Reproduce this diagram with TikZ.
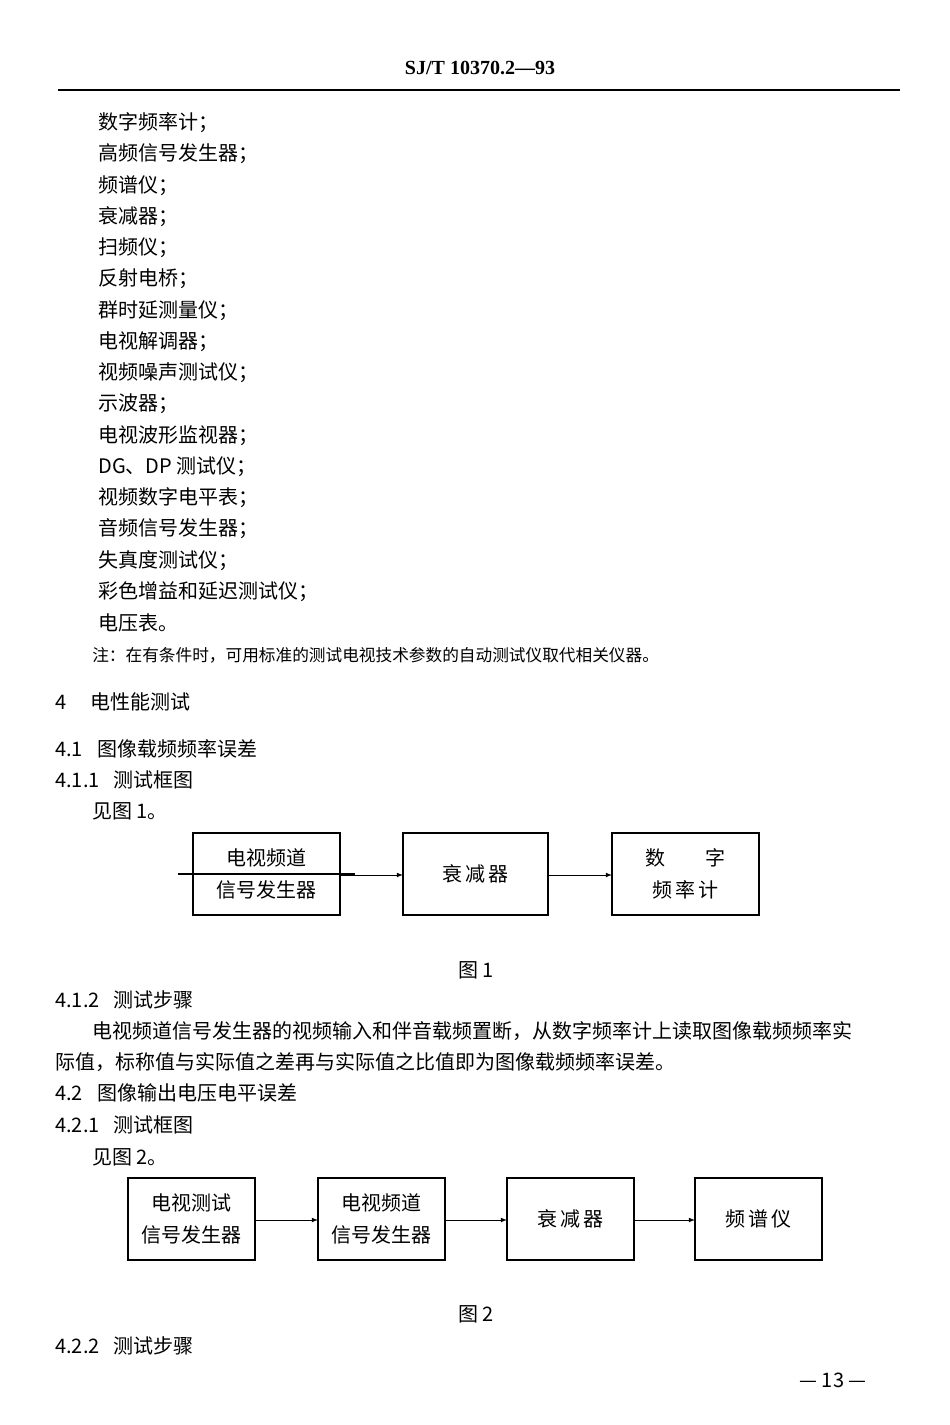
\documentclass[tikz,border=0pt]{standalone}
\usepackage{fontspec}
\setmainfont{Noto Sans CJK SC}
\newfontfamily\latinf{Liberation Serif}
\begin{document}
\begin{tikzpicture}[x=0.75pt,y=-0.75pt,
  txt/.style={anchor=west,inner sep=0pt,font=\fontsize{15}{18}\selectfont},
  small/.style={anchor=west,inner sep=0pt,font=\fontsize{12.5}{15}\selectfont},
  box/.style={draw,line width=0.9pt,inner sep=0pt,font=\fontsize{15}{24}\selectfont,align=center},
  conn/.style={-latex,line width=0.6pt}]
\useasboundingbox[fill=white] (0,0) rectangle (950,1425);
\node[font=\latinf\fontsize{15}{18}\selectfont\bfseries] (hdr) at (480,68) {SJ/T 10370.2—93};
\draw[line width=1pt] (58,90) -- (900,90);
\foreach \t/\y [count=\i] in {数字频率计；/123,高频信号发生器；/154,频谱仪；/186,衰减器；/217,扫频仪；/248,反射电桥；/279,群时延测量仪；/311,电视解调器；/342,视频噪声测试仪；/373,示波器；/404,电视波形监视器；/436,DG、DP 测试仪；/467,视频数字电平表；/498,音频信号发生器；/529,失真度测试仪；/561,彩色增益和延迟测试仪；/592,电压表。/623}
  \node[txt] (l\i) at (98,\y) {\t};
\node[small] (note) at (92,655) {注：在有条件时，可用标准的测试电视技术参数的自动测试仪取代相关仪器。};
\node[txt] (s4) at (55,702) {4\hspace{1.2em}电性能测试};
\node[txt] (s41) at (55,749) {4.1\hspace{0.7em}图像载频频率误差};
\node[txt] (s411) at (55,780) {4.1.1\hspace{0.7em}测试框图};
\node[txt] (see1) at (92,811) {见图 1。};
\node[box,minimum width=147\pgflinewidth,text width=130pt] (a1) at (266.5,874) {};
\draw[line width=0.9pt] (193,833) rectangle (340,915);
\node[box,draw=none] (t1) at (266.5,874) {电视频道\\信号发生器};
\draw[line width=0.9pt] (403,833) rectangle (548,915);
\node[box,draw=none] (t2) at (475.5,874) {衰\,减\,器};
\draw[line width=0.9pt] (612,833) rectangle (759,915);
\node[box,draw=none] (t3) at (685.5,874) {数\hspace{2em}字\\频\,率\,计};
\coordinate (b1r) at (340,875); \coordinate (b2l) at (403,875);
\coordinate (b2r) at (548,875); \coordinate (b3l) at (612,875);
\draw[conn] (b1r) -- (b2l);
\draw[conn] (b2r) -- (b3l);
\node[txt,anchor=center] (f1) at (476,970) {图 1};
\node[txt] (s412) at (55,1000) {4.1.2\hspace{0.7em}测试步骤};
\node[txt] (p1) at (92,1031) {电视频道信号发生器的视频输入和伴音载频置断，从数字频率计上读取图像载频频率实};
\node[txt] (p2) at (55,1062) {际值，标称值与实际值之差再与实际值之比值即为图像载频频率误差。};
\node[txt] (s42) at (55,1093) {4.2\hspace{0.7em}图像输出电压电平误差};
\node[txt] (s421) at (55,1125) {4.2.1\hspace{0.7em}测试框图};
\node[txt] (see2) at (92,1157) {见图 2。};
\draw[line width=0.9pt] (128,1178) rectangle (255,1260);
\draw[line width=0.9pt] (318,1178) rectangle (445,1260);
\draw[line width=0.9pt] (507,1178) rectangle (634,1260);
\draw[line width=0.9pt] (695,1178) rectangle (822,1260);
\node[box,draw=none] (u1) at (191.5,1219) {电视测试\\信号发生器};
\node[box,draw=none] (u2) at (381.5,1219) {电视频道\\信号发生器};
\node[box,draw=none] (u3) at (570.5,1219) {衰\,减\,器};
\node[box,draw=none] (u4) at (758.5,1219) {频\,谱\,仪};
\coordinate (c1) at (255,1220); \coordinate (c2) at (318,1220);
\coordinate (c3) at (445,1220); \coordinate (c4) at (507,1220);
\coordinate (c5) at (634,1220); \coordinate (c6) at (695,1220);
\draw[conn] (c1) -- (c2);
\draw[conn] (c3) -- (c4);
\draw[conn] (c5) -- (c6);
\node[txt,anchor=center] (f2) at (476,1314) {图 2};
\node[txt] (s422) at (55,1346) {4.2.2\hspace{0.7em}测试步骤};
\node[txt,anchor=center] (pg) at (833,1380) {— 13 —};
\end{tikzpicture}
\end{document}
